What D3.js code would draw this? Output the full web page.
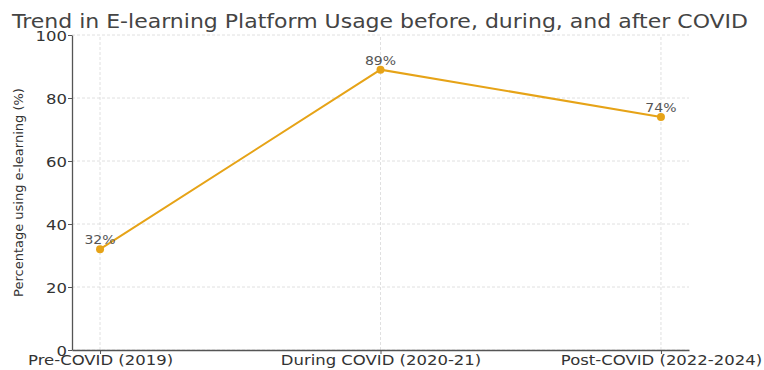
<!DOCTYPE html>
<meta charset="utf-8">
<script src="https://d3js.org/d3.v7.min.js"></script>
<style>
  body { margin: 0; background: #fff; }
  text { font-family: "DejaVu Sans", sans-serif; }
</style>
<div id="chart"></div>
<script>
// data
var periods = ["Pre-COVID (2019)", "During COVID (2020-21)", "Post-COVID (2022-2024)"];
var usage = [32, 89, 74];
var yTicks = [0, 20, 40, 60, 80, 100];

var W = 764, H = 370;
var margin = {top: 35, right: 75, bottom: 20, left: 72};
var lineColor = "#e6a317";

// the source picture has slightly wide lettering, so stretch text horizontally
function stretch(sel, k) {
  sel.each(function() {
    var w = this.getComputedTextLength();
    d3.select(this)
      .attr("textLength", w * k)
      .attr("lengthAdjust", "spacingAndGlyphs");
  });
}

var svg = d3.select("#chart").append("svg")
    .attr("width", W)
    .attr("height", H);

// x positions: index scale with matplotlib-like 5% padding
var x = d3.scaleLinear()
    .domain([-0.1, periods.length - 1 + 0.1])
    .range([margin.left, W - margin.right]);

var y = d3.scaleLinear()
    .domain([0, 100])
    .range([H - margin.bottom, margin.top]);

// grid
var grid = svg.append("g");
grid.selectAll(".hgrid")
  .data(yTicks)
  .enter().append("line")
    .attr("x1", x.range()[0]).attr("x2", x.range()[1])
    .attr("y1", function(d) { return y(d); })
    .attr("y2", function(d) { return y(d); })
    .attr("stroke", "#d8d8d8")
    .attr("stroke-dasharray", "3,2")
    .attr("stroke-width", 0.8);
grid.selectAll(".vgrid")
  .data(periods)
  .enter().append("line")
    .attr("x1", function(d, i) { return x(i); })
    .attr("x2", function(d, i) { return x(i); })
    .attr("y1", y(0)).attr("y2", y(100))
    .attr("stroke", "#d8d8d8")
    .attr("stroke-dasharray", "3,2")
    .attr("stroke-width", 0.8);

// axes
var xAxis = svg.append("g")
    .attr("transform", "translate(0," + y(0) + ")")
    .call(d3.axisBottom(x)
      .tickValues(d3.range(periods.length))
      .tickFormat(function(i) { return periods[i]; })
      .tickSize(4)
      .tickSizeOuter(0));

var yAxis = svg.append("g")
    .attr("transform", "translate(" + x.range()[0] + ",0)")
    .call(d3.axisLeft(y)
      .tickValues(yTicks)
      .tickSize(4)
      .tickSizeOuter(0));

[xAxis, yAxis].forEach(function(a) {
  a.select(".domain").attr("stroke", "#555").attr("stroke-width", 1.3);
  a.selectAll(".tick line").attr("stroke", "#555");
  a.selectAll(".tick text")
    .attr("fill", "#333")
    .style("font-size", "13.5px")
    .style("font-family", "DejaVu Sans, sans-serif");
});
xAxis.selectAll(".tick text").attr("y", 15).attr("dy", "0");
yAxis.selectAll(".tick text").attr("x", -5).attr("dy", "0.4em");
stretch(xAxis.selectAll(".tick text"), 1.22);
stretch(yAxis.selectAll(".tick text"), 1.22);

// line + points
var line = d3.line()
    .x(function(d, i) { return x(i); })
    .y(function(d) { return y(d); });

svg.append("path")
    .datum(usage)
    .attr("d", line)
    .attr("fill", "none")
    .attr("stroke", lineColor)
    .attr("stroke-width", 2);

svg.selectAll(".pt")
  .data(usage)
  .enter().append("circle")
    .attr("cx", function(d, i) { return x(i); })
    .attr("cy", function(d) { return y(d); })
    .attr("r", 4)
    .attr("fill", lineColor);

var labels = svg.selectAll(".lbl")
  .data(usage)
  .enter().append("text")
    .attr("x", function(d, i) { return x(i); })
    .attr("y", function(d) { return y(d) - 5; })
    .attr("text-anchor", "middle")
    .attr("fill", "#555")
    .style("font-size", "12.5px")
    .text(function(d) { return d + "%"; });
stretch(labels, 1.12);

// title
var title = svg.append("text")
    .attr("x", 380)
    .attr("y", 28)
    .attr("text-anchor", "middle")
    .attr("fill", "#444")
    .style("font-size", "20px")
    .text("Trend in E-learning Platform Usage before, during, and after COVID");
stretch(title, 1.1);

// y label
svg.append("text")
    .attr("transform", "translate(23," + (y(0) + y(100)) / 2 + ") rotate(-90)")
    .attr("text-anchor", "middle")
    .attr("fill", "#333")
    .style("font-size", "13px")
    .text("Percentage using e-learning (%)");
</script>
